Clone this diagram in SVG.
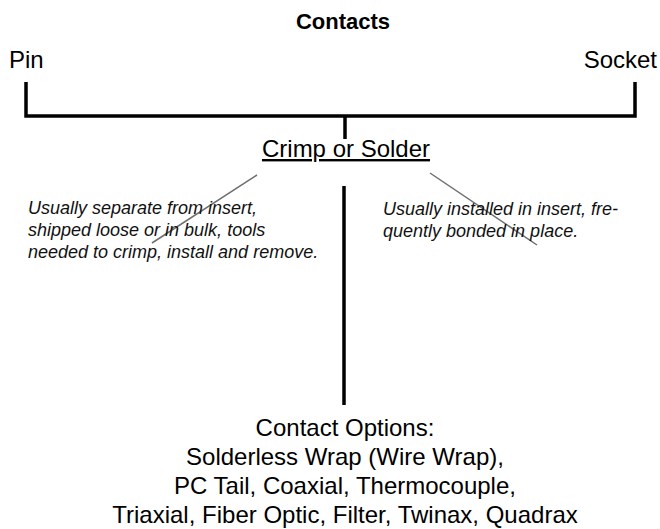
<svg xmlns="http://www.w3.org/2000/svg" width="660" height="529" viewBox="0 0 660 529">
<style>
text{font-family:"Liberation Sans",Arial,sans-serif;fill:#000}
.t{font-size:24px}
.b{font-size:22px;font-weight:bold}
.i{font-size:18px;font-style:italic;fill:#111}
.c{text-anchor:middle}
.k{stroke:#000;stroke-width:3.5;fill:none;stroke-linecap:butt}
.d{stroke:#555;stroke-width:1.5;fill:none;opacity:.85}
</style>
<rect width="660" height="529" fill="#fff"/>
<g id="connectors">
<polyline class="k" points="26,82 26,116 635,116 635,82"/>
<line class="k" x1="345" y1="116" x2="345" y2="139"/>
<line class="k" x1="344" y1="186" x2="344" y2="405"/>
<line class="d" x1="257" y1="175" x2="152" y2="243"/>
<line class="d" x1="430" y1="173" x2="537" y2="245"/>
</g>
<g id="title"><text class="b c" x="343" y="29">Contacts</text></g>
<g id="pin"><text class="t" x="9" y="68">Pin</text></g>
<g id="socket"><text class="t" x="657" y="68" text-anchor="end">Socket</text></g>
<g id="crimp"><text class="t c" x="346" y="157" text-decoration="underline">Crimp or Solder</text></g>
<g id="note-left">
<text class="i" x="28" y="214">Usually separate from insert,</text>
<text class="i" x="28" y="236">shipped loose or in bulk, tools</text>
<text class="i" x="28" y="258">needed to crimp, install and remove.</text>
</g>
<g id="note-right">
<text class="i" x="383" y="215">Usually installed in insert, fre-</text>
<text class="i" x="383" y="237">quently bonded in place.</text>
</g>
<g id="options">
<text class="t c" x="345" y="436">Contact Options:</text>
<text class="t c" x="345" y="465">Solderless Wrap (Wire Wrap),</text>
<text class="t c" x="345" y="494">PC Tail, Coaxial, Thermocouple,</text>
<text class="t c" x="345" y="523">Triaxial, Fiber Optic, Filter, Twinax, Quadrax</text>
</g>
</svg>
